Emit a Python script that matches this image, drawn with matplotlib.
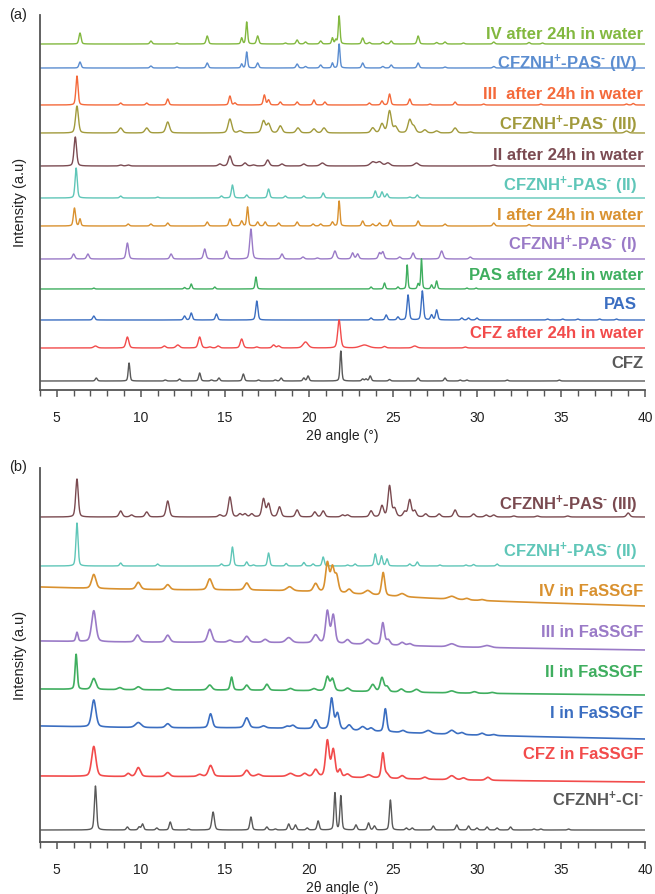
import numpy as np
import matplotlib
matplotlib.use("Agg")
import matplotlib.pyplot as plt
from matplotlib.ticker import MultipleLocator

plt.rcParams["font.family"] = ["Liberation Sans", "DejaVu Sans"]
plt.rcParams["mathtext.fontset"] = "custom"
plt.rcParams["mathtext.rm"] = "Liberation Sans:bold"
plt.rcParams["mathtext.it"] = "Liberation Sans:bold"
plt.rcParams["mathtext.bf"] = "Liberation Sans:bold"

# ---------------------------------------------------------------------------
# Peak lists: (2theta, intensity, optional FWHM)
# ---------------------------------------------------------------------------
# Panel (a)
IV_WATER = [(6.38, 11), (10.6, 3), (12.15, 1), (13.95, 8), (16.0, 6, .12), (16.3, 22, .12),
            (16.95, 8), (18.6, 1), (19.3, 4), (19.8, 2), (20.7, 3), (21.4, 6, .12), (21.6, 4, .12),
            (21.8, 28, .12), (23.2, 6), (23.6, 1.5), (24.4, 2), (24.9, 3), (26.5, 8), (27.6, 1.5),
            (28.1, 2), (29.2, 1), (31.0, 2), (33.1, 1.5), (33.9, 1)]
PAS_IV = [(6.38, 6), (10.6, 2), (12.15, 1), (13.95, 5), (16.0, 4, .12), (16.3, 16, .12),
          (16.95, 5), (19.3, 4), (19.8, 1.5), (20.7, 3), (21.4, 5, .12), (21.8, 24, .12),
          (23.2, 5), (24.4, 1.5), (24.9, 3), (26.5, 5), (28.1, 1), (31.0, 1.5)]
III_WATER = [(6.2, 29), (8.8, 2), (10.35, 2), (11.6, 6), (15.3, 9), (15.6, 2), (17.35, 10),
             (17.6, 5), (18.3, 3), (19.3, 3), (20.3, 5), (20.95, 3), (23.6, 2), (24.35, 4),
             (24.8, 11), (26.0, 6), (27.2, 1), (28.7, 3), (30.4, 1), (33.8, 1), (38.9, 1), (39.3, 1.5)]
PAS_III = [(6.2, 27, .2), (8.8, 5), (10.35, 5), (11.6, 11), (15.3, 14), (15.9, 2), (17.3, 12),
           (17.6, 9), (18.3, 7), (19.35, 5), (20.3, 4), (20.9, 5), (23.8, 5), (24.35, 9),
           (24.8, 22), (25.15, 6), (26.0, 13), (26.25, 6), (26.9, 3), (27.6, 2), (28.7, 5),
           (29.6, 1), (38.9, 2)]
II_WATER = [(6.1, 29, .18), (8.8, 1), (9.25, 1), (14.7, 2), (15.3, 10), (16.2, 3), (16.7, 1),
            (17.55, 6), (18.4, 2), (19.7, 2), (20.8, 3, .3), (23.8, 4, .35), (24.2, 4, .35),
            (24.7, 3, .3), (26.4, 3, .3), (31.0, 1)]
PAS_II = [(6.15, 30), (8.8, 2), (11.0, 1), (14.8, 2), (15.45, 13), (16.3, 3), (17.6, 9),
          (18.6, 2), (19.7, 2), (20.85, 5), (23.95, 7), (24.35, 6), (24.65, 4), (26.0, 1), (26.45, 3)]
I_WATER = [(6.05, 18), (6.38, 7, .12), (9.25, 2), (10.6, 2), (11.6, 3), (13.95, 4), (15.3, 7),
           (16.0, 5), (16.35, 19, .12), (16.95, 4), (17.4, 4), (18.2, 3), (19.3, 4), (20.25, 2),
           (20.7, 2), (21.4, 4), (21.8, 25, .12), (23.2, 5), (23.8, 2), (24.2, 3), (24.85, 6),
           (26.5, 5), (28.1, 2), (31.0, 3), (33.1, 1.5)]
PAS_I = [(6.0, 5), (6.85, 5), (9.2, 16), (11.8, 5), (13.8, 10), (15.1, 8), (16.55, 30),
         (18.4, 5), (19.65, 2), (20.5, 1), (21.55, 8, .2), (22.6, 6), (22.9, 5), (24.2, 6),
         (24.4, 7), (25.4, 2), (26.2, 6), (27.9, 8, .2), (29.6, 2)]
PAS_WATER = [(7.2, 1), (12.6, 1.5), (13.0, 5), (14.4, 2), (16.85, 12, .12), (23.7, 2), (24.5, 6),
             (25.3, 2), (25.85, 24, .1), (26.5, 5), (26.7, 30, .1), (27.3, 4), (27.6, 8),
             (29.4, 1), (29.95, 1)]
PAS = [(7.2, 4), (12.6, 4), (13.0, 7), (14.5, 6), (16.9, 19), (23.7, 2), (24.6, 5), (25.3, 3),
       (25.9, 25), (26.75, 29), (27.3, 5), (27.6, 10), (29.1, 2), (29.5, 2), (30.0, 2),
       (34.2, 1), (35.1, 1), (36.0, 1), (37.3, 1), (38.3, 1)]
CFZ_WATER = [(7.3, 2, .25), (9.2, 11, .2), (11.4, 2), (12.2, 3, .25), (13.5, 11, .2), (14.1, 1),
             (14.6, 2), (16.0, 9, .2), (16.9, 1), (17.9, 3), (18.2, 2), (19.8, 6, .35),
             (21.8, 28, .2), (23.3, 3, .6), (24.5, 1.5), (26.3, 2, .3), (29.3, 1)]
CFZ = [(7.35, 3), (9.3, 18, .12), (11.45, 1), (12.3, 2), (13.5, 8), (14.2, 1), (14.65, 3),
       (16.1, 7), (17.0, 1), (18.0, 1), (18.35, 3), (19.7, 3), (19.95, 5), (21.9, 30, .12),
       (23.2, 2), (23.4, 2), (23.65, 5), (24.8, 1.5), (26.5, 3), (28.1, 3), (29.0, 1),
       (29.4, 1), (31.8, 1), (34.9, 1)]

# Panel (b)
PAS_III_B = [(6.2, 38, .18), (8.8, 6), (9.45, 2), (10.35, 5), (11.6, 16), (14.7, 2), (15.3, 20),
             (15.9, 3), (16.2, 3), (16.6, 3), (17.3, 18), (17.6, 13), (18.25, 10), (19.3, 7),
             (20.35, 5), (20.85, 6), (22.0, 2), (22.3, 2), (23.7, 6), (24.35, 11), (24.8, 31),
             (25.1, 8), (25.7, 5), (26.0, 17), (26.3, 6), (26.95, 3), (27.75, 3), (28.7, 7),
             (29.8, 3), (30.55, 2), (31.0, 2), (32.2, 1), (33.6, 1), (35.4, 1), (39.0, 4)]
PAS_II_B = [(6.2, 43, .15), (8.8, 3), (11.0, 2), (14.8, 2), (15.45, 19), (16.3, 4), (16.7, 1),
            (17.6, 13), (18.65, 2.5), (19.7, 3.5), (20.25, 2), (20.85, 9), (22.3, 1), (22.75, 2),
            (23.95, 12), (24.32, 10), (24.65, 7), (26.0, 2), (26.45, 4), (27.8, 1), (29.35, 1),
            (29.8, 1.5), (31.2, 2)]
IV_FASSGF = [(7.2, 14, .3), (9.85, 7, .3), (11.6, 5, .3), (14.1, 11, .3), (16.3, 7, .3),
             (18.85, 4, .4), (20.4, 8, .3), (21.1, 29, .25), (21.4, 24, .25), (21.65, 16, .25),
             (22.4, 4, .3), (23.5, 4, .4), (24.42, 23, .22), (25.55, 3, .4), (28.5, 3, .5),
             (29.4, 1.5, .3), (30.3, 1, .3)]
III_FASSGF = [(6.2, 9, .15), (7.2, 31, .3), (9.8, 7, .3), (11.6, 7, .3), (14.1, 13, .3),
              (15.3, 2, .3), (16.3, 6, .3), (17.4, 3, .3), (18.8, 5, .4), (20.4, 8, .35),
              (21.1, 32, .25), (21.45, 28, .25), (22.3, 4, .3), (23.5, 5, .4), (24.4, 22, .22),
              (24.72, 5, .25), (25.55, 3, .3), (26.0, 2, .3), (28.5, 3, .5), (30.6, 2, .5)]
II_FASSGF = [(6.15, 35, .15), (7.2, 11, .3), (8.75, 2, .3), (9.85, 3, .3), (11.6, 2, .3),
             (14.1, 5, .3), (15.4, 13, .18), (16.3, 5, .25), (17.5, 6, .25), (18.9, 2, .3),
             (20.3, 2, .3), (21.1, 14, .25), (21.4, 12, .25), (22.3, 3, .3), (23.8, 7, .3),
             (24.35, 14, .25), (24.65, 5, .25), (25.5, 3, .3), (26.4, 3, .35), (28.5, 2, .4),
             (29.85, 1.5, .3), (30.9, 1, .3)]
I_FASSGF = [(7.2, 27, .3), (9.85, 5, .4), (11.6, 4, .3), (14.15, 14, .25), (16.3, 10, .3),
            (17.3, 2, .3), (18.7, 2, .3), (19.05, 3, .3), (20.4, 9, .3), (21.35, 31, .25),
            (21.7, 16, .25), (22.4, 5, .3), (23.2, 4, .35), (23.7, 3, .3), (24.55, 23, .2),
            (25.6, 2, .3), (27.1, 3, .4), (28.5, 4, .4), (29.1, 2, .3), (30.3, 2, .3), (31.0, 1, .3)]
CFZ_FASSGF = [(7.2, 30, .3), (9.25, 3, .25), (9.85, 9, .3), (11.6, 4, .3), (13.5, 2, .3),
              (14.15, 11, .3), (16.3, 6, .3), (17.0, 2, .3), (18.9, 3, .4), (19.75, 3, .3),
              (20.4, 7, .3), (21.1, 36, .25), (21.45, 27, .25), (21.85, 7, .2), (22.3, 3, .3),
              (23.55, 3, .4), (24.4, 25, .2), (24.65, 4, .25), (25.55, 3, .3), (26.9, 2, .3),
              (28.5, 4, .4), (29.2, 2, .3), (30.65, 3, .3)]
CFZNH_CL = [(7.3, 44, .15), (9.2, 3), (9.9, 3), (10.1, 6), (10.95, 2), (11.75, 8), (12.85, 1),
            (14.3, 18, .18), (16.55, 13), (17.5, 3), (18.0, 1), (18.8, 6), (19.2, 5), (19.9, 2),
            (20.55, 9), (21.55, 37, .13), (21.9, 34, .13), (22.8, 5), (23.55, 7), (23.9, 4),
            (24.85, 30, .14), (25.8, 2), (26.15, 2), (27.4, 4), (28.8, 5), (29.5, 4), (30.0, 2),
            (30.6, 3), (31.2, 2), (32.0, 3), (33.4, 1), (33.8, 1), (35.45, 1)]

# Sloping background of the FaSSGF slurries: (total drift over 4-40 deg, halo height)
IV_FASSGF_BG = (-19, 4)
III_FASSGF_BG = (-9, 2)
II_FASSGF_BG = (-6, 1)
I_FASSGF_BG = (-13, 3)
CFZ_FASSGF_BG = (-6, 2)

SALT = r"CFZNH$^{+}$-PAS$^{\text{-}}$"
LABELS_A = ["IV after 24h in water", SALT + " (IV)", "III  after 24h in water",
            SALT + " (III)", "II after 24h in water", SALT + " (II)",
            "I after 24h in water", SALT + " (I)", "PAS after 24h in water",
            "PAS", "CFZ after 24h in water", "CFZ"]
LABELS_B = [SALT + " (III)", SALT + " (II)", "IV in FaSSGF",
            "III in FaSSGF", "II in FaSSGF", "I in FaSSGF", "CFZ in FaSSGF",
            r"CFZNH$^{+}$-Cl$^{\text{-}}$"]

XTICKS = [5, 10, 15, 20, 25, 30, 35, 40]

# ---------------------------------------------------------------------------
two_theta = np.arange(4.0, 40.0001, 0.01)


def pattern(peaks, width=0.15):
    y = np.zeros_like(two_theta)
    for pk in peaks:
        pos, h = pk[0], pk[1]
        w = pk[2] if len(pk) > 2 else width
        d = (two_theta - pos) / w
        y += h * (0.65 * np.exp(-4 * np.log(2) * d ** 2) + 0.35 / (1 + 4 * d ** 2))
    return y


def background(bg):
    drift, halo = bg
    return drift * (two_theta - 4) / 36 + halo * np.exp(-0.5 * ((two_theta - 19) / 5) ** 2)


fig = plt.figure(figsize=(6.55, 8.94), dpi=100)
W, H = 655, 894
ax_a = fig.add_axes([40 / W, 1 - 390 / H, 605 / W, 375 / H])
ax_b = fig.add_axes([40 / W, 1 - 842 / H, 605 / W, 374 / H])

spine_col = "#555555"

series_a = [
    (IV_WATER, "#82b83f", 346, 0.15),
    (PAS_IV, "#5b8dd0", 322, 0.15),
    (III_WATER, "#f4693a", 285, 0.15),
    (PAS_III, "#a19a3c", 257, 0.25),
    (II_WATER, "#7b4b52", 224, 0.22),
    (PAS_II, "#5fc6b8", 192, 0.15),
    (I_WATER, "#d9912f", 164, 0.15),
    (PAS_I, "#9a7ac7", 131, 0.17),
    (PAS_WATER, "#3fae5f", 101, 0.12),
    (PAS, "#3b6ec1", 70, 0.15),
    (CFZ_WATER, "#f24b4b", 42, 0.2),
    (CFZ, "#595959", 9, 0.14),
]
text_a = [351, 321, 291, 260, 230, 199, 170, 140, 110, 81, 52, 22]
right_a = [39.89, 39.54, 39.89, 39.54, 39.89, 39.54, 39.89, 39.54, 39.89, 39.54, 39.89, 39.89]

series_b = [
    (PAS_III_B, "#7a4a50", 325, 0.22, None),
    (PAS_II_B, "#5fc6b8", 276, 0.15, None),
    (IV_FASSGF, "#d9912f", 255, 0.3, IV_FASSGF_BG),
    (III_FASSGF, "#9a7ac7", 201, 0.3, III_FASSGF_BG),
    (II_FASSGF, "#3fae5f", 153, 0.3, II_FASSGF_BG),
    (I_FASSGF, "#3b6ec1", 116, 0.3, I_FASSGF_BG),
    (CFZ_FASSGF, "#f24b4b", 66, 0.3, CFZ_FASSGF_BG),
    (CFZNH_CL, "#595959", 12, 0.15, None),
]
text_b = [332, 285, 246, 205, 165, 124, 83, 36]
right_b = [39.54, 39.54, 39.89, 39.89, 39.89, 39.89, 39.89, 39.89]

for (peaks, col, base, w), lab, ty, rx in zip(series_a, LABELS_A, text_a, right_a):
    ax_a.plot(two_theta, base + pattern(peaks, w), color=col, lw=1.0)
    ax_a.text(rx, ty, lab, color=col, fontsize=12, fontweight="bold", ha="right", va="baseline")

for (peaks, col, base, w, bg), lab, ty, rx in zip(series_b, LABELS_B, text_b, right_b):
    y = base + pattern(peaks, w)
    if bg is not None:
        y = y + background(bg)
    ax_b.plot(two_theta, y, color=col, lw=1.2 if bg is not None else 1.0)
    ax_b.text(rx, ty, lab, color=col, fontsize=12, fontweight="bold", ha="right", va="baseline")

for ax, top in ((ax_a, 375), (ax_b, 374)):
    ax.set_xlim(4, 40)
    ax.set_ylim(0, top)
    ax.set_yticks([])
    ax.set_xticks(XTICKS)
    ax.xaxis.set_minor_locator(MultipleLocator(1))
    for s in ("top", "right"):
        ax.spines[s].set_visible(False)
    for s in ("left", "bottom"):
        ax.spines[s].set_color(spine_col)
        ax.spines[s].set_linewidth(1.3)
    ax.tick_params(axis="x", which="major", direction="out", length=5, width=1.1,
                   color=spine_col, pad=10, labelsize=10, labelcolor="#222222")
    ax.tick_params(axis="x", which="minor", direction="out", length=4, width=1.0, color=spine_col)
    ax.set_xlabel("2\u03b8 angle (\u00b0)", fontsize=10, labelpad=3, color="#222222")
    ax.set_ylabel("Intensity (a.u)", fontsize=10.5, color="#222222")
    ax.yaxis.set_label_coords(-0.022, 0.5)
    ax.patch.set_alpha(0)

fig.text(18 / W, 1 - 15 / H, "(a)", fontsize=10.5, ha="center", va="center", color="#222222")
fig.text(18 / W, 1 - 467 / H, "(b)", fontsize=10.5, ha="center", va="center", color="#222222")

fig.savefig("out.png", dpi=100, facecolor="white")
